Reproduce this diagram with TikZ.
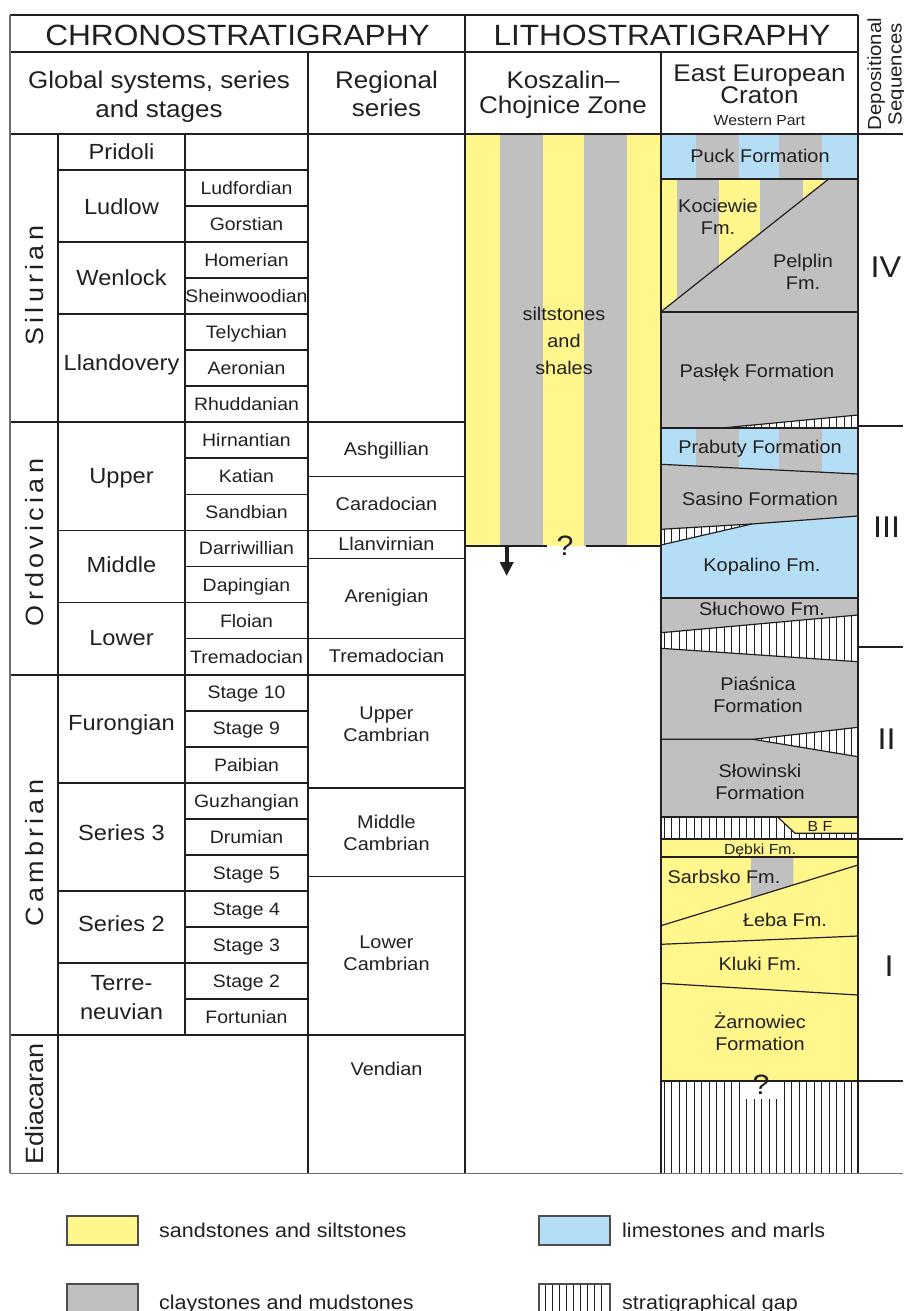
\documentclass[tikz,border=0pt]{standalone}
\usepackage{fontspec}
\setmainfont{Liberation Sans}[FakeStretch=1.08]
\usetikzlibrary{arrows.meta}
\definecolor{sand}{RGB}{255,246,140}
\definecolor{clay}{RGB}{192,192,192}
\definecolor{lime}{RGB}{180,222,245}
\definecolor{ink}{RGB}{35,31,32}
\newcommand\myfs[2]{\fontsize{#1}{#2}\selectfont}
\begin{document}
\begin{tikzpicture}[x=1pt,y=-1pt,
  every node/.append style={text=ink, inner sep=0pt, text depth=0pt},
  tl/.style={draw=ink, line width=1.8pt},
  bl/.style={draw=ink!65, line width=1.5pt},
  thinl/.style={draw=ink, line width=1.2pt},
  hl/.style={draw=ink, line width=0.9pt},
  stage/.style={font=\myfs{18}{21}},
  series/.style={font=\myfs{21.9}{28.5}, align=center},
  regional/.style={font=\myfs{18.4}{22}, align=center},
  sys/.style={rotate=90, font=\myfs{25}{28}\addfontfeature{LetterSpace=17}},
  sysplain/.style={rotate=90, font=\myfs{25}{28}},
  hdr/.style={font=\myfs{29.3}{32}},
  hdrb/.style={font=\myfs{24.1}{28.5}, align=center},
  fm/.style={font=\myfs{18.4}{22}, align=center},
  fmsmall/.style={font=\myfs{14.6}{17}},
  roman/.style={font=\myfs{30}{32}},
  qmark/.style={font=\myfs{28}{30}},
  legtext/.style={font=\myfs{19.9}{23}, anchor=west},
  legbox/.style={draw=ink!80, line width=1.1pt}
]
\useasboundingbox (0,0) rectangle (903,1311);

% ---------------- Koszalin-Chojnice column ----------------
\fill[sand] (465,134) rectangle (661,546);
\fill[clay] (500,134) rectangle (542.7,546);
\fill[clay] (584,134) rectangle (626.7,546);
\draw[tl] (465,546) -- (547,546);
\draw[tl] (586,546) -- (661,546);
\node[fm, font=\myfs{18.4}{26.7}] (kcz) at (564,341) {siltstones\\and\\shales};
\node[qmark] (kq) at (565,545.5) {?};
\coordinate (arS) at (506.7,546);
\coordinate (arE) at (506.7,576);
\draw[draw=ink, line width=3.8pt, -{Triangle[length=14pt,width=13pt]}] (arS) -- (arE);

% ---------------- East European Craton column ----------------
% Puck
\fill[lime] (661,134) rectangle (858,179.3);
\fill[clay] (696,134) rectangle (739,179.3);
\fill[clay] (779,134) rectangle (822,179.3);
% Kociewie / Pelplin
\fill[clay] (661,179.3) rectangle (858,311.7);
\begin{scope}
\clip (661,179.3) -- (828.3,179.3) -- (661,311.7) -- cycle;
\fill[sand] (661,179.3) rectangle (677,311.7);
\fill[sand] (719,179.3) rectangle (760,311.7);
\fill[sand] (803,179.3) rectangle (858,311.7);
\end{scope}
\draw[thinl] (661,311.7) -- (828.3,179.3);
% Paslek
\fill[clay] (661,311.7) rectangle (858,427.7);
\begin{scope}
\clip (725,427.7) -- (858,415) -- (858,427.7) -- cycle;
\fill[white] (661,400) rectangle (858,440);
\foreach \xx in {664,671.5,...,858} \draw[hl] (\xx,400) -- (\xx,440);
\end{scope}
\draw[thinl] (725,427.7) -- (858,415);
% Prabuty / Sasino / Kopalino
\fill[clay] (661,427.7) rectangle (858,597.7);
\begin{scope}
\clip (661,427.7) -- (858,427.7) -- (858,474) -- (661,464.3) -- cycle;
\fill[lime] (661,427.7) rectangle (696,480);
\fill[lime] (739,427.7) rectangle (779,480);
\fill[lime] (822,427.7) rectangle (858,480);
\end{scope}
\draw[thinl] (661,464.3) -- (858,474);
\fill[lime] (661,545) -- (751.7,524) -- (858,516) -- (858,597.7) -- (661,597.7) -- cycle;
\begin{scope}
\clip (661,529.3) -- (751.7,524) -- (661,545) -- cycle;
\fill[white] (661,515) rectangle (760,550);
\foreach \xx in {664,671.5,...,760} \draw[hl] (\xx,515) -- (\xx,550);
\end{scope}
\draw[thinl] (661,529.3) -- (751.7,524);
\draw[thinl] (661,545) -- (751.7,524) -- (858,516);
% Sluchowo / Piasnica / Slowinski
\fill[clay] (661,597.7) rectangle (858,817.3);
\begin{scope}
\clip (661,632.7) -- (858,615) -- (858,661.7) -- (661,648.3) -- cycle;
\fill[white] (661,610) rectangle (858,665);
\foreach \xx in {664,671.5,...,858} \draw[hl] (\xx,610) -- (\xx,665);
\end{scope}
\draw[thinl] (661,632.7) -- (858,615);
\draw[thinl] (661,648.3) -- (858,661.7);
\begin{scope}
\clip (753,739.3) -- (858,727.3) -- (858,756.7) -- cycle;
\fill[white] (750,725) rectangle (858,760);
\foreach \xx in {664,671.5,...,858} \draw[hl] (\xx,725) -- (\xx,760);
\end{scope}
\draw[thinl] (661,739.3) -- (753,739.3) -- (858,727.3);
\draw[thinl] (753,739.3) -- (858,756.7);
% gap band with B F
\fill[white] (661,817.3) rectangle (858,839);
\foreach \xx in {664,671.5,...,858} \draw[hl] (\xx,817.3) -- (\xx,839);
\fill[sand] (778,817.3) -- (795,833.3) -- (858,833.3) -- (858,817.3) -- cycle;
\draw[thinl] (778,817.3) -- (795,833.3) -- (858,833.3);
\node[fmsmall] (bf) at (820,826) {B F};
% Debki
\fill[sand] (661,839) rectangle (858,856.7);
\node[fmsmall] (debki) at (760,849) {Dębki Fm.};
% Sarbsko ... Zarnowiec
\fill[sand] (661,856.7) rectangle (858,1080.7);
\fill[clay] (751,856.7) -- (793.3,856.7) -- (793.3,885) -- (751,898) -- cycle;
\draw[thinl] (661,925.7) -- (858,865);
\draw[thinl] (661,944.3) -- (858,936);
\draw[thinl] (661,983.3) -- (858,995);
% bottom gap
\fill[white] (661,1080.7) rectangle (858,1173.3);
\foreach \xx in {664,671.5,...,858} \draw[hl] (\xx,1080.7) -- (\xx,1173.3);
\fill[white] (742,1081) rectangle (778,1099);
\node[qmark] (eq) at (761,1085) {?};

% formation labels
\node[fm] (puck) at (760,156) {Puck Formation};
\node[fm] (koc) at (718,217) {Kociewie\\Fm.};
\node[fm] (pel) at (803,271.5) {Pelplin\\Fm.};
\node[fm] (pas) at (757,371) {Pasłęk Formation};
\node[fm] (pra) at (760,447) {Prabuty Formation};
\node[fm] (sas) at (760,498.5) {Sasino Formation};
\node[fm] (kop) at (762,565) {Kopalino Fm.};
\node[fm] (slu) at (762,608.5) {Słuchowo Fm.};
\node[fm] (pia) at (758,694.7) {Piaśnica\\Formation};
\node[fm] (slo) at (760,782) {Słowinski\\Formation};
\node[fm] (sar) at (724,877.3) {Sarbsko Fm.};
\node[fm] (leb) at (785,920) {Łeba Fm.};
\node[fm] (klu) at (760,964) {Kluki Fm.};
\node[fm] (zar) at (760,1031.5) {Żarnowiec\\Formation};

% ---------------- table grid ----------------
\draw[tl] (10,15) -- (858,15);
\draw[tl] (10,52.3) -- (858,52.3);
\draw[tl] (10,134) -- (903,134);
\foreach \i in {1,...,24} \draw[tl] (185,{134+36.04*\i}) -- (308,{134+36.04*\i});
\foreach \i in {1,3,5,11,13,18,21,23} \draw[tl] (58,{134+36.04*\i}) -- (185,{134+36.04*\i});
\foreach \i in {8,15,25} \draw[tl] (10,{134+36.04*\i}) -- (465,{134+36.04*\i});
\foreach \yy in {476.4,530.44,558.5,638.56,787.7,876.5} \draw[tl] (308,\yy) -- (465,\yy);
\draw[tl] (58,134) -- (58,1173.3);
\draw[tl] (185,134) -- (185,1035);
\draw[tl] (308,52.3) -- (308,1173.3);
\draw[tl] (465,15) -- (465,1173.3);
\draw[tl] (661,52.3) -- (661,1173.3);
\draw[tl] (858,15) -- (858,1173.3);
\foreach \yy in {179.3,311.7,427.7,597.7,817.3,839,856.7,1080.7} \draw[tl] (661,\yy) -- (858,\yy);
\foreach \yy in {425.7,647,839,1080.7} \draw[tl] (858,\yy) -- (903,\yy);
\draw[bl] (10,15) -- (10,1173.3);
\draw[bl] (10,1173.3) -- (903,1173.3);

% ---------------- headers ----------------
\node[hdr] (hchr) at (237.5,35.3) {CHRONOSTRATIGRAPHY};
\node[hdr] (hlit) at (662,35.3) {LITHOSTRATIGRAPHY};
\node[hdrb] (hglob) at (159,94.5) {Global systems, series\\and stages};
\node[hdrb, font=\myfs{24.1}{27.5}] (hreg) at (386.5,93.6) {Regional\\series};
\node[hdrb, font=\myfs{24.1}{25.5}] (hkcz) at (563,92.2) {Koszalin–\\Chojnice Zone};
\node[hdrb, font=\myfs{24.1}{22.3}] (heec) at (759.5,84.5) {East European\\Craton};
\node[font=\myfs{14.6}{17}] (hwp) at (759.5,120.5) {Western Part};
\node[rotate=90, align=center, font=\myfs{18.9}{20.5}] (hds) at (884.5,74) {Depositional\\Sequences};

% ---------------- systems ----------------
\node[sys] (sil) at (34,285.8) {Silurian};
\node[sys] (ord) at (34,542.5) {Ordovician};
\node[sys] (cam) at (34,853.3) {Cambrian};
\node[sysplain] (edi) at (34,1104) {Ediacaran};

% ---------------- series ----------------
\node[series] (pri) at (121.5,152) {Pridoli};
\node[series] (lud) at (121.5,206.5) {Ludlow};
\node[series] (wen) at (121.5,277.5) {Wenlock};
\node[series] (lla) at (121.5,362.5) {Llandovery};
\node[series] (upp) at (121.5,476.4) {Upper};
\node[series] (mid) at (121.5,565) {Middle};
\node[series] (low) at (121.5,638) {Lower};
\node[series] (fur) at (121.5,722.7) {Furongian};
\node[series] (se3) at (121.5,832.3) {Series 3};
\node[series] (se2) at (121.5,923.3) {Series 2};
\node[series] (ter) at (121.5,997.5) {Terre-\\neuvian};

% ---------------- stages ----------------
\foreach \n [count=\i] in {Ludfordian,Gorstian,Homerian,Sheinwoodian,Telychian,Aeronian,Rhuddanian,Hirnantian,Katian,Sandbian,Darriwillian,Dapingian,Floian,Tremadocian,Stage 10,Stage 9,Paibian,Guzhangian,Drumian,Stage 5,Stage 4,Stage 3,Stage 2,Fortunian}
  \node[stage] (stage\i) at (246.5,{134+36.04*(\i+0.5)}) {\n};

% ---------------- regional series ----------------
\node[regional] (ash) at (386.5,449) {Ashgillian};
\node[regional] (car) at (386.5,503.4) {Caradocian};
\node[regional] (llv) at (386.5,544) {Llanvirnian};
\node[regional] (are) at (386.5,596) {Arenigian};
\node[regional] (tre) at (386.5,655.6) {Tremadocian};
\node[regional] (ucb) at (386.5,724) {Upper\\Cambrian};
\node[regional] (mcb) at (386.5,832.5) {Middle\\Cambrian};
\node[regional] (lcb) at (386.5,953.5) {Lower\\Cambrian};
\node[regional] (ven) at (386.5,1069) {Vendian};

% ---------------- depositional sequences ----------------
\node[roman] (dsiv) at (886,266.7) {IV};
\node[roman] (dsiii) at (886.5,526.7) {III};
\node[roman] (dsii) at (886.5,738.7) {II};
\node[roman] (dsi) at (889,966) {I};

% ---------------- legend ----------------
\draw[legbox, fill=sand] (67,1216) rectangle (138,1245);
\node[legtext] (lsand) at (159,1230) {sandstones and siltstones};
\draw[legbox, fill=lime] (539,1216) rectangle (610,1245);
\node[legtext] (llime) at (622,1230) {limestones and marls};
\draw[legbox, fill=clay] (67,1284) rectangle (138,1320);
\node[legtext] (lclay) at (159,1302) {claystones and mudstones};
\fill[white] (539,1284) rectangle (610,1320);
\foreach \xx in {545,552,...,606} \draw[hl] (\xx,1284) -- (\xx,1320);
\draw[legbox] (539,1284) rectangle (610,1320);
\node[legtext] (lgap) at (622,1302) {stratigraphical gap};
\end{tikzpicture}
\end{document}
